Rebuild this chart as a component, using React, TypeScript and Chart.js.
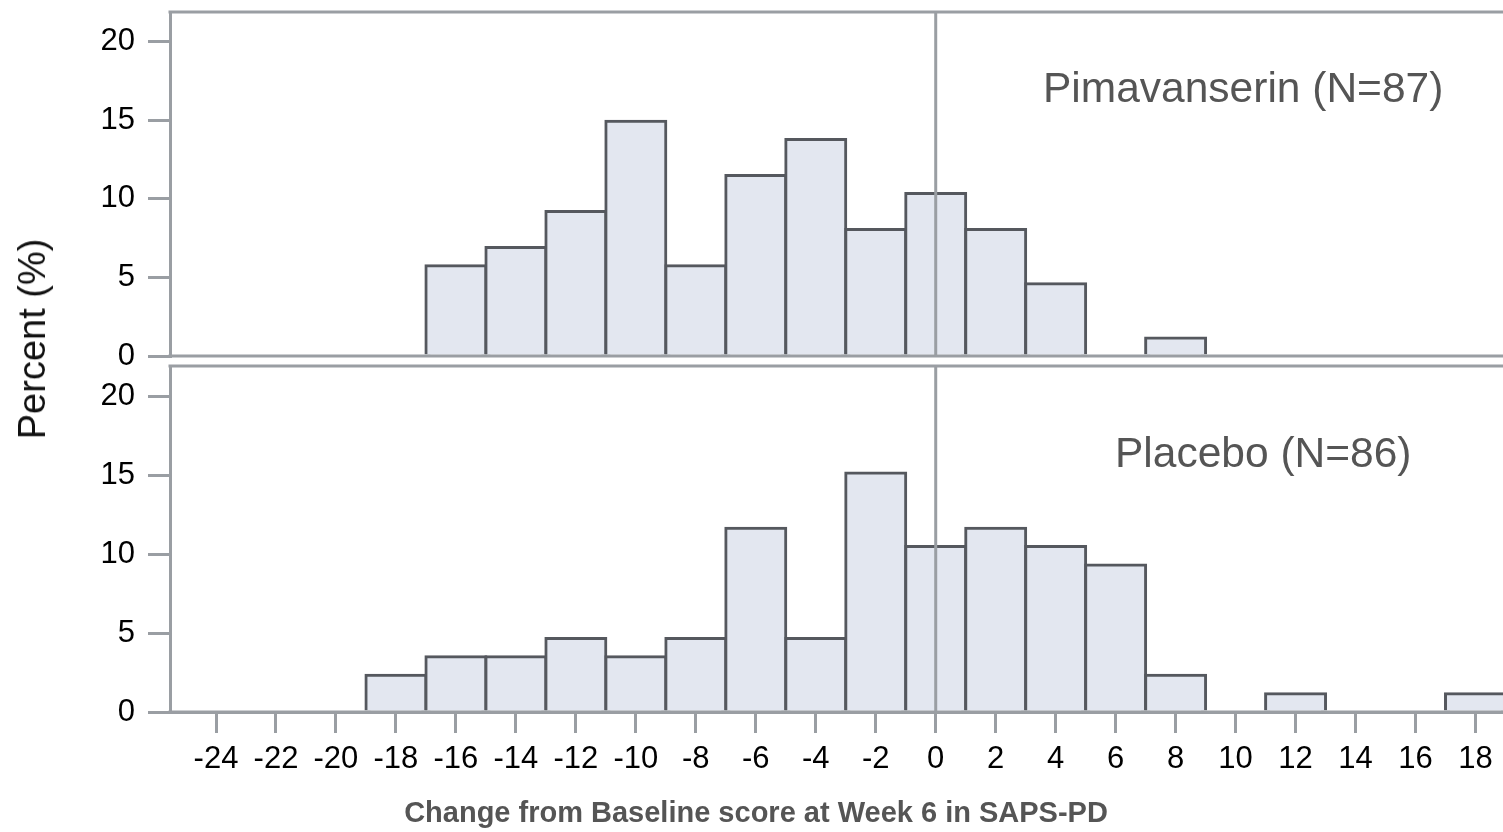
import React, { useEffect, useRef } from "react";
import { Chart, registerables } from "chart.js";

Chart.register(...registerables);

// ---- data ----
const binCenters = [-24, -22, -20, -18, -16, -14, -12, -10, -8, -6, -4, -2, 0, 2, 4, 6, 8, 10, 12, 14, 16, 18];
const pimavanserinPct = [0, 0, 0, 0, 5.75, 6.9, 9.2, 14.94, 5.75, 11.49, 13.79, 8.05, 10.34, 8.05, 4.6, 0, 1.15, 0, 0, 0, 0, 0];
const placeboPct = [0, 0, 0, 2.33, 3.49, 3.49, 4.65, 3.49, 4.65, 11.63, 4.65, 15.12, 10.47, 11.63, 10.47, 9.3, 2.33, 0, 1.16, 0, 0, 1.16];
const xTickValues = [-24, -22, -20, -18, -16, -14, -12, -10, -8, -6, -4, -2, 0, 2, 4, 6, 8, 10, 12, 14, 16, 18];
const yTickValues = [0, 5, 10, 15, 20];
const panelLabels = ["Pimavanserin (N=87)", "Placebo (N=86)"];
const xTitle = "Change from Baseline score at Week 6 in SAPS-PD";
const yTitle = "Percent (%)";
const referenceX = 0;

// ---- axis ranges ----
const X_MIN = -25.534;
const X_MAX = 18.917;
const Y_MAX = 21.9;

// ---- styles ----
const FONT = "'Liberation Sans', Arial, sans-serif";
const FRAME = "#9a9ea3";
const BAR_BORDER = "#55585e";
const BAR_FILL = "#e3e7f0";
const LABEL_COLOR = "#555555";
const W = 1503;

type PanelProps = {
  values: number[];
  label: string;
  top: number;
  height: number;
  padTop: number;
  padBottom: number;
  showX: boolean;
  labelX: number;
  labelBaseline: number; // page coords
};

function Panel(p: PanelProps) {
  const ref = useRef<HTMLCanvasElement>(null);

  useEffect(() => {
    const decor = {
      id: "panelDecor",
      afterDatasetsDraw(chart: any) {
        const { ctx, chartArea: a, scales } = chart;
        const xs = scales.x;
        const ys = scales.y;
        const y0 = ys.getPixelForValue(0);
        ctx.save();
        ctx.strokeStyle = FRAME;
        ctx.lineWidth = 3;
        ctx.lineCap = "butt";
        // reference line
        const px = xs.getPixelForValue(referenceX);
        ctx.beginPath();
        ctx.moveTo(px, a.top);
        ctx.lineTo(px, y0);
        ctx.stroke();
        // top frame line
        ctx.beginPath();
        ctx.moveTo(a.left - 1.5, a.top);
        ctx.lineTo(a.right, a.top);
        ctx.stroke();
        // zero line
        ctx.beginPath();
        ctx.moveTo(a.left - 1.5, y0);
        ctx.lineTo(a.right, y0);
        ctx.stroke();
        ctx.restore();
      },
      afterDraw(chart: any) {
        const { ctx } = chart;
        ctx.save();
        ctx.fillStyle = LABEL_COLOR;
        ctx.font = `42.5px ${FONT}`;
        ctx.textAlign = "left";
        ctx.textBaseline = "alphabetic";
        ctx.fillText(p.label, p.labelX, p.labelBaseline - p.top);
        if (p.showX) {
          ctx.font = `bold 29px ${FONT}`;
          ctx.textAlign = "center";
          ctx.fillText(xTitle, 756, 822 - p.top);
        }
        ctx.restore();
      },
    };

    const chart = new Chart(ref.current as HTMLCanvasElement, {
      type: "bar",
      data: {
        datasets: [
          {
            data: binCenters.map((c, i) => ({ x: c, y: p.values[i] === 0 ? null : p.values[i] })),
            backgroundColor: BAR_FILL,
            borderColor: BAR_BORDER,
            borderWidth: 3,
            inflateAmount: 1.5,
            barPercentage: 1,
            categoryPercentage: 1,
            grouped: false,
          } as any,
        ],
      },
      options: {
        animation: false,
        responsive: false,
        events: [],
        layout: { padding: { top: p.padTop, bottom: p.padBottom, left: 0, right: 0 } },
        plugins: {
          legend: { display: false },
          tooltip: { enabled: false },
          title: { display: false },
        },
        scales: {
          x: {
            type: "linear",
            min: X_MIN,
            max: X_MAX,
            offset: false,
            display: p.showX,
            afterBuildTicks: (s: any) => {
              s.ticks = xTickValues.map((v) => ({ value: v }));
            },
            afterFit: (s: any) => {
              if (p.showX) s.height = 120;
              s.paddingLeft = 0;
              s.paddingRight = 0;
            },
            ticks: {
              autoSkip: false,
              maxRotation: 0,
              minRotation: 0,
              padding: 8,
              color: "#000",
              font: { family: FONT, size: 31 },
              callback: (v: any) => String(v),
            },
            grid: {
              offset: false,
              drawOnChartArea: false,
              drawTicks: true,
              tickLength: 21,
              color: FRAME,
              lineWidth: 3,
              tickColor: FRAME,
              tickWidth: 3,
            },
            border: { display: true, color: FRAME, width: 3 },
          },
          y: {
            type: "linear",
            min: 0,
            max: Y_MAX,
            afterBuildTicks: (s: any) => {
              s.ticks = yTickValues.map((v) => ({ value: v }));
            },
            afterFit: (s: any) => {
              s.width = 170;
              s.paddingTop = 0;
              s.paddingBottom = 0;
            },
            ticks: {
              padding: 13,
              color: "#000",
              font: { family: FONT, size: 31 },
              callback: (v: any) => String(v),
            },
            grid: {
              drawOnChartArea: false,
              drawTicks: true,
              tickLength: 22,
              color: FRAME,
              lineWidth: 3,
              tickColor: FRAME,
              tickWidth: 3,
            },
            border: { display: true, color: FRAME, width: 3 },
          },
        } as any,
      },
      plugins: [decor],
    } as any);
    return () => chart.destroy();
  }, []);

  return (
    <canvas
      ref={ref}
      width={W}
      height={p.height}
      style={{ position: "absolute", left: 0, top: p.top, width: W, height: p.height }}
    />
  );
}

export default function App() {
  return (
    <div style={{ position: "absolute", left: 0, top: 0, width: W, height: 832, background: "#fff", overflow: "hidden" }}>
      <Panel
        values={pimavanserinPct}
        label={panelLabels[0]}
        top={0}
        height={380}
        padTop={12}
        padBottom={24}
        showX={false}
        labelX={1043}
        labelBaseline={102}
      />
      <Panel
        values={placeboPct}
        label={panelLabels[1]}
        top={361}
        height={471}
        padTop={5}
        padBottom={0}
        showX={true}
        labelX={1115}
        labelBaseline={467}
      />
      <div
        style={{
          position: "absolute",
          left: 32,
          top: 339,
          transform: "translate(-50%, -50%) rotate(-90deg)",
          fontFamily: FONT,
          fontSize: 38,
          lineHeight: "38px",
          color: "#111",
          whiteSpace: "nowrap",
        }}
      >
        {yTitle}
      </div>
    </div>
  );
}
